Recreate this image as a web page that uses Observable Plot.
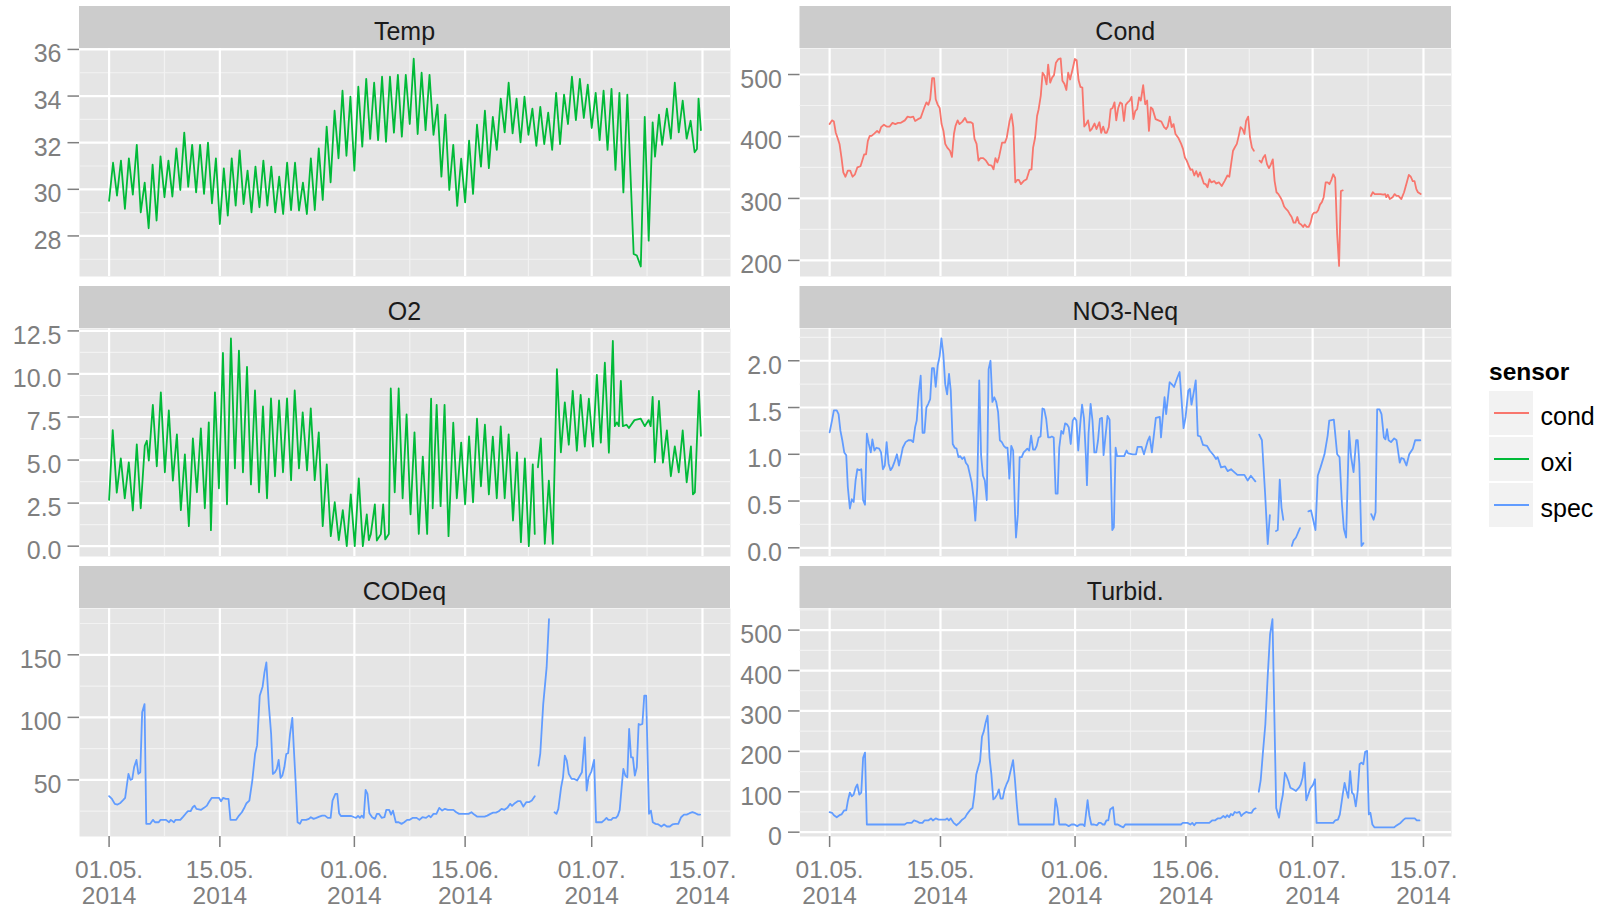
<!DOCTYPE html>
<html><head><meta charset="utf-8">
<script src="https://cdn.jsdelivr.net/npm/d3@7"></script>
<script src="https://cdn.jsdelivr.net/npm/@observablehq/plot@0.6"></script>
<style>
body{margin:0;background:#fff;font-family:"Liberation Sans",Arial,sans-serif;}
#wrap{position:relative;width:1609px;height:910px;overflow:hidden;background:#fff;}
#wrap > svg.plotsvg{position:absolute;}
#overlay{position:absolute;left:0;top:0;pointer-events:none;}
</style></head>
<body><div id="wrap"></div>
<script>
// ---------- data (day offset from 01.05.2014, value); null = gap ----------
const panelNames = ["Temp","Cond","O2","NO3-Neq","CODeq","Turbid."];
const panelSensor = ["oxi","cond","oxi","spec","spec","spec"];
const sensors = ["cond","oxi","spec"];
const sensorColors = ["#F8766D","#00BA38","#619CFF"];
const xTickDates = ["2014-05-01","2014-05-15","2014-06-01","2014-06-15","2014-07-01","2014-07-15"];
const tempTicks = [28,30,32,34,36];
const condTicks = [200,300,400,500];
const o2Ticks = [0,2.5,5,7.5,10,12.5];
const no3Ticks = [0,0.5,1,1.5,2];
const codTicks = [50,100,150];
const turbTicks = [0,100,200,300,400,500];

const tempData = [[0,29.5],[0.5,31.14],[1,29.73],[1.5,31.23],[2,29.16],[2.5,31.33],[3,29.77],[3.5,31.91],[4,29.01],[4.5,30.29],[5,28.33],[5.5,31.06],[6,28.66],[6.5,31.41],[7,29.66],[7.5,31.23],[8,29.69],[8.5,31.76],[9,29.97],[9.5,32.43],[10,30.11],[10.5,31.91],[11,29.87],[11.5,31.91],[12,29.8],[12.5,32.0],[13,29.4],[13.5,31.33],[14,28.51],[14.5,30.9],[15,28.87],[15.5,31.33],[16,29.3],[16.5,31.67],[17,29.37],[17.5,30.8],[18,29.01],[18.5,30.97],[19,29.23],[19.5,31.23],[20,29.3],[20.5,30.97],[21,29.01],[21.5,30.54],[22,28.94],[22.5,31.14],[23,29.11],[23.5,31.14],[24,29.09],[24.5,30.29],[25,28.94],[25.5,31.33],[26,29.11],[26.5,31.76],[27,29.54],[27.5,32.69],[28,30.3],[28.5,33.37],[29,31.33],[29.5,34.23],[30,31.44],[30.5,33.97],[31,30.8],[31.5,34.4],[32,31.83],[32.5,34.74],[33,32.16],[33.5,34.57],[34,32.11],[34.5,34.83],[35,32.04],[35.5,34.83],[36,32.43],[36.5,34.91],[37,32.26],[37.5,34.91],[38,32.8],[38.5,35.6],[39,32.37],[39.5,35.0],[40,32.54],[40.5,34.91],[41,32.34],[41.5,33.63],[42,30.54],[42.5,33.2],[43,29.97],[43.5,31.91],[44,29.29],[44.5,31.31],[45,29.44],[45.5,32.09],[46,29.8],[46.5,32.77],[47,30.97],[47.5,33.37],[48,30.91],[48.5,33.11],[49,31.69],[49.5,33.89],[50,32.44],[50.5,34.57],[51,32.4],[51.5,33.89],[52,32.01],[52.5,33.97],[53,32.34],[53.5,33.46],[54,31.86],[54.5,33.54],[55,31.94],[55.5,33.29],[56,31.69],[56.5,34.14],[57,31.94],[57.5,34.06],[58,32.8],[58.5,34.83],[59,32.97],[59.5,34.74],[60,33.06],[60.5,34.49],[61,32.63],[61.5,34.14],[62,32.11],[62.5,34.23],[63,31.69],[63.5,34.31],[64,30.83],[64.5,34.14],[65,29.87],[65.5,34.06],[66.3,27.23],[66.7,27.16],[67.2,26.69],[67.7,33.11],[68.2,27.8],[68.7,32.87],[69.0,31.4],[69.5,33.2],[69.9,31.91],[70.5,33.46],[71,32.17],[71.5,34.57],[72,32.44],[72.5,33.8],[73,32.17],[73.5,32.94],[74,31.59],[74.3,31.73],[74.5,33.89],[74.8,32.54]];

const condData = [[0,420],[0.3,426],[0.54,424],[0.78,406],[1.0,398],[1.25,388],[1.5,366],[1.73,342],[2.0,335],[2.3,345],[2.6,345],[2.9,335],[3.2,339],[3.5,350],[3.9,352],[4.1,360],[4.36,371],[4.6,371],[4.83,393],[5.07,401],[5.3,401],[5.67,405],[6.0,409],[6.26,406],[6.5,415],[6.86,419],[7.2,416],[7.58,416],[7.94,422],[8.3,420],[8.65,422],[9.0,422],[9.5,426],[9.85,432],[10.2,431],[10.56,432],[10.8,425],[11.16,428],[11.5,430],[11.75,439],[12.0,448],[12.23,455],[12.47,451],[12.7,460],[12.95,494],[13.19,494],[13.4,460],[13.66,451],[13.9,446],[14.14,420],[14.38,409],[14.6,388],[14.86,382],[15.2,377],[15.45,367],[15.7,404],[15.9,417],[16.17,426],[16.4,420],[16.77,424],[17.1,430],[17.36,423],[17.84,423],[18.08,421],[18.3,396],[18.56,388],[18.8,361],[19.03,365],[19.4,365],[19.75,361],[20.1,354],[20.47,353],[20.7,347],[20.94,365],[21.18,358],[21.4,367],[21.78,390],[22.14,390],[22.37,398],[22.73,425],[22.97,436],[23.2,415],[23.45,326],[23.7,330],[23.9,330],[24.16,323],[24.5,328],[24.88,331],[25.24,346],[25.5,347],[25.7,382],[25.95,398],[26.2,433],[26.4,444],[26.67,466],[26.9,503],[27.15,498],[27.4,484],[27.6,516],[27.86,487],[28.1,495],[28.34,499],[28.58,519],[28.9,525],[29.18,526],[29.4,490],[29.65,485],[29.9,475],[30.13,503],[30.37,492],[30.73,511],[30.97,525],[31.2,523],[31.44,491],[31.68,480],[31.92,479],[32.16,416],[32.4,420],[32.64,426],[32.88,409],[33.1,412],[33.46,421],[33.7,412],[34.07,423],[34.3,406],[34.55,416],[34.79,406],[35.0,406],[35.26,415],[35.5,444],[35.74,446],[35.98,455],[36.2,426],[36.45,446],[36.7,455],[36.93,453],[37.17,425],[37.4,451],[37.65,455],[37.9,458],[38.13,464],[38.37,428],[38.6,441],[38.84,444],[39.08,463],[39.3,458],[39.6,483],[39.86,452],[40.1,458],[40.33,409],[40.57,447],[40.8,444],[41.17,428],[41.53,426],[41.9,424],[42.24,415],[42.5,412],[42.7,416],[42.96,432],[43.2,415],[43.44,420],[43.68,404],[44.03,398],[44.4,388],[44.63,380],[44.87,366],[45.1,361],[45.35,353],[45.58,346],[45.8,347],[46.06,337],[46.3,344],[46.54,335],[46.78,342],[47.0,334],[47.26,324],[47.5,323],[47.73,318],[47.97,331],[48.2,326],[48.57,328],[48.8,324],[49.16,326],[49.52,320],[49.88,328],[50.24,337],[50.48,335],[50.7,355],[50.95,377],[51.2,383],[51.43,388],[51.67,401],[51.9,415],[52.15,412],[52.39,404],[52.6,425],[52.86,432],[53.1,398],[53.34,382],[53.58,377],[53.9,null],[54.3,361],[54.54,358],[54.77,366],[55.0,370],[55.25,355],[55.49,349],[55.73,355],[55.97,363],[56.2,328],[56.44,310],[56.68,307],[56.92,302],[57.16,296],[57.4,287],[57.64,283],[57.88,280],[58.1,275],[58.35,270],[58.6,261],[58.83,261],[59.07,270],[59.3,260],[59.55,258],[59.8,254],[60.0,258],[60.26,254],[60.5,254],[60.74,261],[60.98,274],[61.2,277],[61.46,277],[61.7,281],[61.93,290],[62.17,294],[62.4,302],[62.65,326],[62.89,326],[63.13,323],[63.37,330],[63.6,339],[63.85,333],[64.1,242],[64.34,191],[64.57,312],[64.8,313],[66.0,null],[68.37,304],[68.6,310],[68.85,307],[69.2,307],[69.57,307],[69.93,306],[70.17,307],[70.3,302],[70.5,306],[70.76,299],[71.1,302],[71.36,307],[71.6,304],[71.84,304],[72.2,299],[72.55,310],[72.9,326],[73.15,338],[73.4,335],[73.64,328],[73.87,328],[74.1,315],[74.3,310],[74.65,307]];

const o2Data = [[0,2.69],[0.46,6.74],[0.97,3.11],[1.48,5.1],[1.98,2.78],[2.49,4.87],[3.0,2.07],[3.5,5.91],[4.0,2.2],[4.51,5.83],[4.77,6.12],[5.02,4.97],[5.53,8.21],[6.03,4.64],[6.54,8.93],[7.05,4.29],[7.55,7.88],[8.06,3.81],[8.57,6.49],[9.07,2.09],[9.58,5.33],[10.08,1.16],[10.59,6.26],[11.1,3.13],[11.6,6.84],[12.1,2.2],[12.6,7.19],[12.87,0.93],[13.38,8.93],[13.88,3.36],[14.39,11.22],[14.9,2.43],[15.4,12.06],[15.9,4.52],[16.41,11.36],[16.92,4.29],[17.43,10.41],[17.93,3.59],[18.44,9.04],[18.95,3.13],[19.45,8.11],[19.96,2.78],[20.46,8.58],[20.97,4.06],[21.48,8.46],[21.98,4.29],[22.49,8.58],[23.0,3.83],[23.46,9.04],[24.0,4.52],[24.47,7.77],[25.02,4.4],[25.49,8.0],[25.99,3.83],[26.5,6.61],[27.0,1.16],[27.51,4.75],[28.02,0.58],[28.52,2.55],[29.03,0.35],[29.54,2.09],[30.04,0.0],[30.55,3.01],[31.05,0.0],[31.56,3.94],[32.07,0.0],[32.57,1.85],[32.83,0.35],[33.08,0.7],[33.59,2.43],[33.84,0.33],[34.35,0.7],[34.64,2.43],[34.9,0.39],[35.36,0.7],[35.6,9.16],[36.1,3.13],[36.6,9.16],[37.1,2.78],[37.6,7.65],[38.1,1.85],[38.6,6.61],[39.14,0.71],[39.65,5.2],[40.2,0.71],[40.7,8.56],[40.9,2.2],[41.4,8.21],[41.9,2.32],[42.4,8.21],[42.9,0.58],[43.5,7.17],[43.95,2.78],[44.5,6.01],[45.0,2.43],[45.5,6.38],[46.0,2.55],[46.5,7.4],[47.0,3.48],[47.5,7.05],[48.0,3.01],[48.5,6.36],[49.0,2.78],[49.5,6.96],[50.0,2.78],[50.5,6.49],[51.05,1.49],[51.55,5.45],[52.05,0.23],[52.55,5.1],[53.05,0.0],[53.55,4.75],[53.8,0.71],[54.0,null],[54.2,4.58],[54.57,6.26],[55.07,0.14],[55.58,3.81],[56.08,0.14],[56.6,10.28],[57.1,5.45],[57.6,8.35],[58.1,5.89],[58.6,9.02],[59.12,5.54],[59.6,8.79],[60.13,5.78],[60.64,8.56],[61.15,5.78],[61.65,9.95],[62.15,6.01],[62.66,10.65],[63.17,5.43],[63.67,11.92],[63.92,6.97],[64.18,7.19],[64.43,6.97],[64.68,9.6],[64.94,6.97],[65.4,7.05],[65.7,6.86],[66.4,7.32],[67.2,7.4],[67.7,6.97],[68.2,7.32],[68.45,6.97],[68.7,8.67],[68.98,4.87],[69.5,8.44],[70.0,4.85],[70.5,6.72],[71.0,4.06],[71.5,5.8],[72.0,4.29],[72.5,6.72],[73.0,3.71],[73.54,5.8],[73.79,3.01],[74.04,3.13],[74.55,9.02],[74.8,6.41]];

const no3Data = [[0,1.235],[0.3,1.36],[0.54,1.47],[0.9,1.47],[1.13,1.43],[1.37,1.25],[1.6,1.15],[1.85,1.02],[2.1,0.99],[2.3,0.65],[2.56,0.42],[2.8,0.52],[3.04,0.49],[3.28,0.72],[3.5,0.84],[3.75,0.83],[4.0,0.84],[4.23,0.51],[4.47,0.46],[4.7,1.22],[4.95,1.11],[5.2,1.02],[5.4,1.16],[5.66,1.04],[5.9,1.07],[6.26,1.06],[6.5,1.02],[6.73,0.84],[6.97,0.88],[7.2,1.13],[7.45,0.9],[7.69,0.83],[7.93,0.86],[8.16,0.91],[8.5,1.0],[8.76,0.88],[9.0,0.97],[9.24,1.07],[9.6,1.13],[9.95,1.15],[10.3,1.15],[10.55,1.13],[10.8,1.29],[11.0,1.36],[11.26,1.66],[11.5,1.84],[11.74,1.23],[11.98,1.23],[12.22,1.5],[12.46,1.54],[12.7,1.59],[12.93,1.92],[13.17,1.92],[13.4,1.72],[13.65,1.95],[13.9,2.05],[14.12,2.24],[14.36,2.07],[14.6,1.75],[14.84,1.64],[15.08,1.86],[15.3,1.68],[15.55,1.11],[15.8,1.07],[16.03,1.06],[16.27,0.97],[16.5,0.98],[16.75,0.95],[17.0,0.97],[17.2,0.91],[17.46,0.88],[17.7,0.79],[17.94,0.7],[18.18,0.54],[18.4,0.29],[18.65,0.65],[18.9,1.79],[19.13,0.99],[19.37,0.77],[19.6,0.72],[19.85,0.51],[20.08,1.91],[20.32,2.0],[20.56,1.56],[20.8,1.61],[21.04,1.56],[21.28,1.45],[21.5,1.15],[21.75,1.13],[22.0,1.09],[22.23,1.07],[22.47,1.07],[22.7,0.74],[22.94,1.09],[23.18,1.04],[23.42,0.36],[23.54,0.11],[23.78,0.36],[24.0,0.97],[24.26,0.97],[24.5,1.02],[24.73,1.04],[24.97,1.06],[25.2,1.04],[25.45,1.2],[25.7,1.05],[25.93,1.05],[26.16,1.09],[26.4,1.18],[26.64,1.19],[26.88,1.49],[27.1,1.48],[27.35,1.38],[27.6,1.18],[27.83,1.18],[28.07,1.19],[28.3,1.18],[28.55,0.58],[28.8,0.58],[29.0,1.07],[29.26,1.25],[29.5,1.22],[29.74,1.33],[29.97,1.32],[30.2,1.29],[30.45,1.11],[30.7,1.36],[30.93,1.39],[31.17,1.36],[31.4,1.04],[31.65,1.32],[31.88,1.53],[32.12,1.39],[32.36,0.99],[32.5,0.67],[32.7,1.22],[32.96,1.54],[33.2,1.36],[33.43,1.02],[33.67,1.02],[33.9,1.15],[34.14,1.38],[34.4,1.39],[34.6,0.99],[35.1,1.41],[35.36,1.37],[35.7,0.19],[35.9,0.22],[36.12,1.07],[36.3,0.98],[37.2,0.98],[37.5,1.04],[37.7,1.01],[38.3,1.0],[38.7,1.0],[38.9,1.08],[39.4,1.08],[39.7,1.0],[40.2,1.15],[40.42,1.19],[40.7,1.02],[41.2,1.39],[41.7,1.4],[41.85,1.18],[42.3,1.61],[42.5,1.43],[42.94,1.77],[43.2,1.75],[43.5,1.72],[43.87,1.81],[44.2,1.88],[44.7,1.28],[44.96,1.4],[45.3,1.68],[45.5,1.7],[45.7,1.53],[45.98,1.66],[46.24,1.79],[46.5,1.2],[46.82,1.19],[47.16,1.1],[47.67,1.09],[48.0,1.04],[48.5,0.99],[48.8,0.95],[49.0,0.97],[49.43,0.86],[49.94,0.87],[50.27,0.82],[50.7,0.84],[51.1,0.81],[51.5,0.78],[51.96,0.78],[52.38,0.78],[52.8,0.72],[53.2,0.77],[53.77,0.71],[54.0,null],[54.26,1.21],[54.6,1.15],[55.0,0.58],[55.33,0.04],[55.6,0.35],[56.0,null],[56.38,0.18],[56.6,0.19],[56.85,0.73],[57.07,0.43],[57.3,0.3],[57.8,null],[58.37,0.02],[58.6,0.08],[58.9,0.11],[59.4,0.21],[59.9,null],[60.47,0.39],[60.8,0.4],[61.36,0.19],[61.65,0.77],[62.0,0.86],[62.5,1.0],[62.9,1.2],[63.1,1.36],[63.68,1.37],[64.1,1.0],[64.4,0.97],[64.7,0.47],[64.95,0.2],[65.23,0.11],[65.6,1.25],[65.86,0.97],[66.17,0.81],[66.5,1.15],[66.7,1.15],[66.9,0.9],[67.17,0.02],[67.42,0.05],[67.9,null],[68.4,0.36],[68.7,0.3],[68.95,0.38],[69.15,1.48],[69.45,1.48],[69.7,1.43],[70.0,1.18],[70.2,1.16],[70.4,1.27],[70.6,1.15],[70.9,1.13],[71.3,1.17],[71.6,1.15],[72.0,0.91],[72.2,0.96],[72.5,0.95],[72.85,0.88],[73.2,1.0],[73.65,1.06],[73.95,1.15],[74.15,1.15],[74.6,1.15]];

const codData = [[0,37.0],[0.36,34.8],[0.72,30.9],[1.07,30.3],[1.43,31.6],[1.8,34.0],[2.03,35.6],[2.27,46.8],[2.45,54.8],[2.7,50.0],[2.93,50.8],[3.16,60.1],[3.46,66.0],[3.7,54.8],[3.94,56.1],[4.18,104.0],[4.48,110.6],[4.7,14.9],[5.2,14.9],[5.55,18.1],[5.8,16.2],[6.27,16.2],[6.5,18.1],[7.2,18.1],[7.58,16.2],[7.8,18.1],[8.2,16.2],[8.4,18.1],[9.0,18.1],[9.37,20.7],[9.73,23.4],[9.97,25.0],[10.3,25.0],[10.57,28.2],[10.8,29.5],[11.04,26.9],[11.64,26.1],[12.0,27.7],[12.36,29.5],[12.6,32.2],[12.96,35.6],[13.43,35.6],[13.9,35.6],[14.15,33.0],[14.4,35.6],[14.75,34.8],[15.1,34.8],[15.34,18.1],[16.06,18.1],[16.42,21.5],[16.78,24.2],[17.13,28.2],[17.37,31.4],[17.73,33.5],[18.1,49.5],[18.45,70.7],[18.7,77.4],[19.04,117.3],[19.4,124.5],[19.64,135.9],[19.88,143.9],[20.18,110.6],[20.48,86.7],[20.7,54.8],[20.96,56.1],[21.2,58.8],[21.43,66.0],[21.67,51.6],[21.9,53.5],[22.15,60.1],[22.39,70.7],[22.63,71.3],[22.87,86.7],[23.16,99.5],[23.34,76.1],[23.58,48.1],[23.82,16.2],[24.12,14.9],[24.36,18.1],[24.9,18.1],[25.25,18.9],[25.5,20.2],[25.85,18.9],[26.2,19.7],[26.57,20.7],[26.93,21.5],[27.28,21.5],[27.64,19.7],[28.0,19.7],[28.24,33.5],[28.6,38.8],[28.84,38.8],[29.07,23.4],[29.3,21.2],[29.9,21.2],[30.6,21.2],[30.99,20.2],[31.22,19.7],[31.46,21.2],[31.7,19.7],[31.94,21.5],[32.18,19.7],[32.42,42.0],[32.66,38.8],[32.9,23.4],[33.25,20.2],[33.6,18.9],[33.85,22.9],[34.1,22.9],[34.45,19.7],[34.8,20.2],[35.04,26.1],[35.4,26.1],[35.64,22.3],[35.88,25.5],[36.24,16.2],[36.6,16.2],[36.96,14.9],[37.3,16.2],[37.67,18.1],[38.0,18.1],[38.4,19.7],[38.87,19.7],[39.22,18.1],[39.6,20.2],[40.06,19.7],[40.42,21.5],[40.66,20.2],[41.0,22.9],[41.37,22.9],[41.73,27.7],[42.1,25.5],[42.45,26.9],[42.8,26.1],[43.16,26.1],[43.52,26.1],[43.88,24.2],[44.24,22.9],[44.84,22.9],[45.43,22.9],[45.8,24.2],[46.15,22.3],[46.5,20.7],[47.0,20.7],[47.46,20.7],[47.8,21.5],[48.2,22.9],[48.54,23.9],[48.9,23.9],[49.25,25.0],[49.6,26.9],[49.97,26.1],[50.33,27.7],[50.7,30.9],[50.93,29.3],[51.28,31.4],[51.64,33.0],[52.0,33.0],[52.36,28.7],[52.72,32.2],[53.07,32.2],[53.43,33.5],[53.8,37.0],[54.0,null],[54.27,61.4],[54.5,71.3],[54.87,110.6],[55.3,139.9],[55.6,178.5],[56.0,null],[56.3,24.2],[56.54,22.9],[56.78,26.9],[57.13,44.1],[57.37,52.1],[57.6,69.4],[57.85,65.4],[58.1,54.8],[58.45,50.8],[58.8,50.8],[59.16,49.5],[59.52,53.5],[59.76,56.1],[60.12,84.0],[60.36,41.5],[60.6,52.1],[60.96,56.9],[61.3,66.0],[61.55,16.2],[61.9,16.2],[62.27,16.2],[62.63,18.1],[62.87,19.7],[63.1,18.1],[63.46,18.1],[63.7,19.7],[64.06,19.7],[64.3,21.5],[64.54,26.1],[64.78,44.1],[65.0,58.8],[65.25,53.5],[65.5,52.1],[65.73,90.7],[65.97,68.1],[66.2,68.1],[66.45,53.5],[66.7,60.1],[66.93,94.7],[67.16,94.1],[67.4,94.7],[67.64,117.3],[67.88,117.3],[68.24,22.9],[68.48,25.5],[68.72,16.2],[69.07,14.9],[69.43,14.4],[69.8,12.8],[70.15,14.4],[70.5,12.8],[70.87,12.8],[71.2,14.4],[71.58,14.9],[71.94,14.9],[72.3,20.2],[72.66,22.3],[73.0,22.3],[73.37,23.4],[73.73,24.2],[74.1,23.4],[74.45,22.3],[74.7,22.3]];

const turbData = [[0,49.6],[0.3,48],[0.54,42],[0.9,37],[1.25,42],[1.5,44],[1.85,54],[2.1,54],[2.3,77],[2.56,98],[2.8,89],[3.04,93],[3.28,110],[3.5,118],[3.75,93],[4.0,98],[4.23,184],[4.47,197],[4.7,19],[9.47,19],[9.77,23],[10.36,23],[10.66,29],[11.0,27],[11.37,23],[11.73,23],[11.97,29],[12.45,29],[12.8,34],[13.04,29],[13.4,34],[13.76,31],[14.6,31],[14.83,34],[15.07,29],[15.3,34],[15.66,23],[16.02,17],[16.38,23],[16.74,31],[17.1,36],[17.33,44],[17.8,56],[18.05,60],[18.28,93],[18.52,143],[18.76,160],[19.0,176],[19.24,236],[19.48,250],[19.7,271],[19.95,288],[20.2,184],[20.43,143],[20.67,81],[20.9,85],[21.14,93],[21.38,106],[21.6,83],[21.86,83],[22.1,106],[22.33,118],[22.57,128],[22.8,147],[23.17,178],[23.4,131],[23.64,69],[23.88,19],[28.3,19],[28.53,83],[28.77,60],[29.0,19],[29.84,19],[30.2,15],[30.55,19],[30.9,19],[31.27,15],[31.6,19],[32.0,19],[32.2,15],[32.58,79],[32.8,42],[33.05,19],[33.4,19],[33.77,17],[34.0,23],[34.25,23],[34.5,19],[34.72,19],[34.96,29],[35.2,29],[35.43,56],[35.8,62],[36.03,19],[36.4,19],[36.75,15],[37.1,12],[37.34,19],[44.37,19],[44.6,23],[45.2,23],[45.56,19],[45.8,23],[46.04,17],[46.28,23],[47.95,23],[48.3,29],[48.66,29],[49.0,34],[49.37,34],[49.73,40],[49.97,36],[50.2,42],[50.45,37],[50.68,45],[50.92,42],[51.16,50],[51.4,48],[51.76,50],[52.0,40],[52.23,45],[52.6,50],[52.95,48],[53.3,48],[53.54,56],[53.8,59],[54.0,null],[54.2,100],[54.44,128],[54.74,201],[55.03,267],[55.33,387],[55.63,490],[55.93,527],[56.4,60],[56.76,36],[57.0,69],[57.24,93],[57.5,147],[57.7,139],[57.95,126],[58.19,110],[58.55,106],[58.9,102],[59.27,110],[59.5,118],[59.74,135],[59.97,172],[60.2,79],[60.45,93],[60.7,108],[61.05,117],[61.3,131],[61.5,23],[63.6,23],[63.84,29],[64.2,31],[64.44,44],[64.8,93],[65.04,122],[65.27,102],[65.5,85],[65.74,151],[65.97,98],[66.2,93],[66.45,64],[66.7,102],[66.93,168],[67.16,172],[67.4,168],[67.64,199],[67.88,201],[68.1,44],[68.3,48],[68.55,19],[68.8,12],[71.3,12],[71.5,15],[71.8,19],[72.1,23],[72.5,31],[72.7,34],[73.9,34],[74.15,29],[74.5,29]];

// ---------- build ----------
const DAY = 864e5;
const t0 = Date.UTC(2014, 4, 1);
const xDomain = [new Date(t0 - 3.74 * DAY), new Date(t0 + 78.54 * DAY)];
const xMajor = xTickDates.map(s => new Date(s + "T00:00:00Z"));
const xMinor = d3.pairs(xMajor).map(([a, b]) => new Date((+a + +b) / 2));
const fmtDate = d => d3.utcFormat("%d.%m.")(d) + "\n" + d3.utcFormat("%Y")(d);
const f1 = d3.format(".1f"), f0 = d => String(d);

const panels = [
  {data: tempData, ticks: tempTicks, domain: [26.26, 36.04], fmt: f0},
  {data: condData, ticks: condTicks, domain: [174, 542], fmt: f0},
  {data: o2Data, ticks: o2Ticks, domain: [-0.6, 12.64], fmt: f1},
  {data: no3Data, ticks: no3Ticks, domain: [-0.093, 2.345], fmt: f1},
  {data: codData, ticks: codTicks, domain: [4.8, 187], fmt: f0},
  {data: turbData, ticks: turbTicks, domain: [-10.7, 553.5], fmt: f0}
];

const wrap = document.getElementById("wrap");
const colLeft = [0, 720], colMarginLeft = [79, 79.5], colWidth = [730, 731];
const panelTop = [48, 328, 608], panelH = 228, mTop = 20;

panels.forEach((p, i) => {
  const col = i % 2, row = Math.floor(i / 2), bottom = row === 2;
  const color = sensorColors[sensors.indexOf(panelSensor[i])];
  const rows = p.data.map(([d, v]) => ({date: new Date(t0 + d * DAY), value: v}));
  const step = p.ticks[1] - p.ticks[0];
  const minor = [p.ticks[0] - step / 2, ...p.ticks.map(t => t + step / 2)]
    .filter(v => v > p.domain[0] && v < p.domain[1]);
  const marks = [
    Plot.frame({fill: "#E5E5E5", stroke: "none"}),
    Plot.gridY(minor, {stroke: "#F2F2F2", strokeOpacity: 1, strokeWidth: 1.2}),
    Plot.gridX(xMinor, {stroke: "#F2F2F2", strokeOpacity: 1, strokeWidth: 1.2}),
    Plot.gridY(p.ticks, {stroke: "#FFFFFF", strokeOpacity: 1, strokeWidth: 2.2}),
    Plot.gridX(xMajor, {stroke: "#FFFFFF", strokeOpacity: 1, strokeWidth: 2.2}),
    Plot.line(rows, {x: "date", y: "value", stroke: color, strokeWidth: 1.8}),
    // tick marks only
    Plot.axisY(p.ticks, {tickSize: 11.5, tickFormat: () => "", stroke: "#7F7F7F", strokeWidth: 1.5, label: null}),
    // tick labels only, nudged down like ggplot's
    Plot.axisY(p.ticks, {tickSize: 0, tickPadding: 18, tickFormat: p.fmt, fontSize: 25, dy: 5,
      fill: "#7F7F7F", label: null})
  ];
  if (bottom) marks.push(Plot.axisX(xMajor, {tickSize: 11, tickPadding: 11.5, tickFormat: fmtDate,
    fontSize: 24.5, lineHeight: 1.0857, stroke: "#7F7F7F", fill: "#7F7F7F", strokeWidth: 1.5, label: null}));
  const chart = Plot.plot({
    width: colWidth[col],
    height: mTop + panelH + (bottom ? 74 : 0),
    marginLeft: colMarginLeft[col], marginRight: 0,
    marginTop: mTop, marginBottom: bottom ? 74 : 0,
    style: {background: "transparent", overflow: "visible", fontFamily: "'Liberation Sans', Arial, sans-serif", color: "#7F7F7F"},
    x: {type: "utc", domain: xDomain, label: null, ...(bottom ? {} : {axis: null})},
    y: {domain: p.domain, label: null},
    marks
  });
  chart.classList.add("plotsvg");
  chart.style.position = "absolute";
  chart.style.left = colLeft[col] + "px";
  chart.style.top = (panelTop[row] - mTop) + "px";
  chart.style.maxWidth = "none";
  wrap.appendChild(chart);
});

// ---------- strips and legend (overlay) ----------
const ov = d3.select(wrap).append("svg").attr("id", "overlay").attr("width", 1609).attr("height", 910)
  .style("font-family", "'Liberation Sans', Arial, sans-serif");
const stripX = [79, 799.5], stripW = [651, 651.5], stripTop = [6, 286, 566];
panelNames.forEach((name, i) => {
  const col = i % 2, row = Math.floor(i / 2);
  ov.append("rect").attr("x", stripX[col]).attr("y", stripTop[row]).attr("width", stripW[col]).attr("height", 42).attr("fill", "#CCCCCC");
  ov.append("text").attr("x", stripX[col] + stripW[col] / 2).attr("y", stripTop[row] + 34)
    .attr("text-anchor", "middle").attr("font-size", 25).attr("fill", "#1A1A1A").text(name);
});
ov.append("text").attr("x", 1489).attr("y", 380).attr("font-size", 24.5).attr("font-weight", "bold").attr("fill", "#000").text("sensor");
sensors.forEach((s, k) => {
  const y = 391 + k * 46;
  ov.append("rect").attr("x", 1489).attr("y", y).attr("width", 44).attr("height", 44).attr("fill", "#F2F2F2");
  ov.append("line").attr("x1", 1494).attr("x2", 1529).attr("y1", y + 22).attr("y2", y + 22)
    .attr("stroke", sensorColors[k]).attr("stroke-width", 2);
  ov.append("text").attr("x", 1540.5).attr("y", y + 34).attr("font-size", 25).attr("fill", "#000").text(s);
});
</script>
</body></html>
